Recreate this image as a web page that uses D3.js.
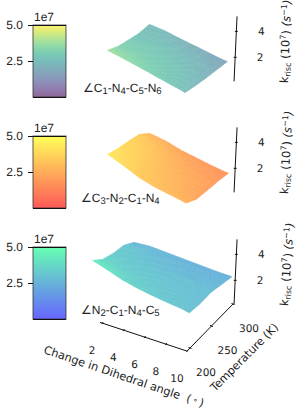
<!DOCTYPE html>
<html>
<head>
<meta charset="utf-8">
<script src="https://cdn.jsdelivr.net/npm/d3@7"></script>
<style>
body { margin: 0; background: #fff; }
text { font-family: "DejaVu Sans"; fill: #222; text-rendering: geometricPrecision; }
.sansLabel { font-family: "Liberation Sans"; }
</style>
</head>
<body>
<div id="my_dataviz"></div>
<script>
const temps = [200, 225, 250, 275, 300];

// rows are temps, columns are the dihedral angles of each panel (units of 1e7)
const anglesC1 = [2.0, 3.5, 5, 6.5, 8, 9, 9.4];
const rateC1 = [
    [3.74, 3.52, 3.27, 3.0, 2.73, 2.57, 2.48],
    [3.2, 3.1, 2.98, 2.8, 2.6, 2.38, 2.17],
    [2.84, 2.8, 2.7, 2.55, 2.35, 2.12, 1.92],
    [2.51, 2.48, 2.38, 2.22, 2.02, 1.84, 1.7],
    [2.36, 2.25, 2.03, 1.84, 1.64, 1.51, 1.48]
];
const anglesC3 = [2.0, 3.5, 5, 6.5, 8, 9, 9.5];
const rateC3 = [
    [4.28, 3.82, 3.3, 2.98, 2.77, 2.63, 2.54],
    [3.9, 3.55, 3.1, 2.75, 2.45, 2.2, 2.0],
    [3.62, 3.3, 2.9, 2.55, 2.25, 2.03, 1.83],
    [3.28, 2.95, 2.55, 2.2, 1.95, 1.8, 1.68],
    [2.51, 2.35, 2.02, 1.82, 1.61, 1.5, 1.46]
];
const anglesN2 = [0.55, 2, 3.5, 5, 6.5, 8, 9, 9.8];
const rateN2 = [
    [4.35, 4.0, 3.6, 3.34, 3.15, 3.0, 2.92, 2.8],
    [3.58, 3.4, 3.2, 3.05, 2.95, 2.85, 2.78, 2.66],
    [3.2, 3.05, 2.95, 2.85, 2.8, 2.75, 2.75, 2.68],
    [2.97, 2.85, 2.7, 2.6, 2.5, 2.45, 2.45, 2.43],
    [2.35, 2.45, 2.4, 2.34, 2.28, 2.23, 2.2, 2.2]
];

const angleTicks = [2, 4, 6, 8, 10];
const tempTicks = [200, 250, 300];
const rateTicks = [2, 4];
const barTicks = [2.5, 5.0];

const panels = [
    {angles: anglesC1, rates: rateC1, cmap: d3.interpolateViridis, alpha: 0.6, dy: -223, barTop: 25, labelX: 83, labelY: 92, names: [["C", "1"], ["N", "4"], ["C", "5"], ["N", "6"]], zRot: -88},
    {angles: anglesC3, rates: rateC3, cmap: t => d3.rgb(255, 255 * t, 0) + "", alpha: 0.65, dy: -112, barTop: 136, labelX: 81, labelY: 202, names: [["C", "3"], ["N", "2"], ["C", "1"], ["N", "4"]], zRot: -87},
    {angles: anglesN2, rates: rateN2, cmap: t => d3.rgb(0, 255 * t, 255 * (1 - t / 2)) + "", alpha: 0.6, dy: 0, barTop: 247, labelX: 81, labelY: 314, names: [["N", "2"], ["C", "1"], ["N", "4"], ["C", "5"]], zRot: -86}
];

const svg = d3.select("#my_dataviz").append("svg").attr("width", 299).attr("height", 410).style("display", "block");

// skewed 3d axes: each data axis adds its own screen offset
const angleX = d3.scaleLinear().domain([2, 10]).range([-84.8, 0]);
const angleY = d3.scaleLinear().domain([2, 10]).range([-28, 0]);
const tempX = d3.scaleLinear().domain([200, 300]).range([190, 233]);
const tempY = d3.scaleLinear().domain([200, 300]).range([348, 304]);
const rateX = d3.scaleLinear().domain([0.15, 5]).range([0, 2.9]);
const rateY = d3.scaleLinear().domain([0.15, 5]).range([0, -63]);

function project(angle, temp, rate) {
    return [angleX(angle) + tempX(temp) + rateX(rate), angleY(angle) + tempY(temp) + rateY(rate)];
}

function flatten(color, alpha) {
    // colour with alpha over the white page, so overlapping strokes leave no seams
    const c = d3.rgb(color);
    const mix = v => Math.round(v * alpha + 255 * (1 - alpha));
    return d3.rgb(mix(c.r), mix(c.g), mix(c.b)) + "";
}

function drawSurface(g, p) {
    const shade = d3.scaleLinear().domain([-0.3, 5]).range([0, 1]);
    const steps = 6;
    const cells = [];
    for (let i = temps.length - 2; i >= 0; i--) {
        for (let j = 0; j < p.angles.length - 1; j++) {
            const at = (u, v) => {
                const temp = d3.interpolate(temps[i], temps[i + 1])(u);
                const angle = d3.interpolate(p.angles[j], p.angles[j + 1])(v);
                const low = d3.interpolate(p.rates[i][j], p.rates[i][j + 1])(v);
                const high = d3.interpolate(p.rates[i + 1][j], p.rates[i + 1][j + 1])(v);
                return {temp, angle, rate: d3.interpolate(low, high)(u)};
            };
            // shading only, the cell corners are the values
            for (let a = steps - 1; a >= 0; a--) {
                for (let b = 0; b < steps; b++) {
                    const corners = [[a, b], [a, b + 1], [a + 1, b + 1], [a + 1, b]].map(c => at(c[0] / steps, c[1] / steps));
                    cells.push({corners, mean: d3.mean(corners, c => c.rate)});
                }
            }
        }
    }
    g.append("g").selectAll("path")
        .data(cells)
        .join("path")
        .attr("d", d => d3.line()(d.corners.map(c => project(c.angle, c.temp, c.rate))) + "Z")
        .attr("fill", d => flatten(p.cmap(shade(d.mean)), p.alpha))
        .attr("stroke", d => flatten(p.cmap(shade(d.mean)), p.alpha))
        .attr("stroke-width", 0.4);
}

function drawColorbar(p) {
    const y = d3.scaleLinear().domain([0, 5]).range([p.barTop + 72, p.barTop]);
    const levels = d3.range(0, 72).map(i => y.invert(p.barTop + i + 0.5));
    svg.append("g").selectAll("rect")
        .data(levels)
        .join("rect")
        .attr("x", 33)
        .attr("width", 33)
        .attr("y", d => y(d) - 0.5)
        .attr("height", 1.2)
        .attr("fill", d => flatten(p.cmap(d / 5), p.alpha));
    svg.append("rect")
        .attr("x", 33).attr("y", p.barTop).attr("width", 33).attr("height", 72)
        .attr("fill", "none").attr("stroke", "#333").attr("stroke-opacity", 0.8);
    [0, 5].forEach(v => {
        svg.append("line").attr("x1", 33).attr("x2", 66).attr("y1", y(v) + 0.5).attr("y2", y(v) + 0.5).attr("stroke", "#111");
    });
    barTicks.forEach(t => {
        svg.append("line").attr("x1", 28).attr("x2", 33).attr("y1", y(t) + 0.5).attr("y2", y(t) + 0.5).attr("stroke", "#111");
        svg.append("text").attr("class", "sansLabel").attr("x", 23).attr("y", y(t) + 4.3)
            .attr("text-anchor", "end").style("font-size", "12px").text(t.toFixed(1));
    });
    svg.append("text").attr("class", "sansLabel").attr("x", 34).attr("y", p.barTop - 4)
        .style("font-size", "12px").text("1e7");
}

function drawAngleName(p) {
    const t = svg.append("text").attr("class", "sansLabel").attr("x", p.labelX).attr("y", p.labelY).style("font-size", "12px");
    t.append("tspan").text("∠");
    p.names.forEach((n, i) => {
        t.append("tspan").attr("dy", i ? -2 : 0).text((i ? "-" : "") + n[0]);
        t.append("tspan").attr("dy", 2).style("font-size", "9.5px").text(n[1]);
    });
}

function drawRateAxis(g, p) {
    const lineGen = d3.line();
    g.append("path")
        .attr("d", lineGen([project(10.1, 300, 0.15), project(10.1, 300, 5.15)]))
        .attr("stroke", "#111").attr("fill", "none");
    rateTicks.forEach(k => {
        const q = project(10.1, 300, k);
        g.append("line").attr("x1", q[0] - 1.5).attr("x2", q[0] + 1.5).attr("y1", q[1]).attr("y2", q[1]).attr("stroke", "#111");
        g.append("text").attr("x", q[0] + 25).attr("y", q[1] + 4)
            .attr("text-anchor", "middle").style("font-size", "10.5px").text(k);
    });
    // z label, rotated a little off vertical as in the 3d view
    const base = project(10.1, 300, 0.15);
    const t = g.append("text")
        .attr("transform", `translate(${base[0] + 54},${base[1] + 2}) rotate(${p.zRot})`)
        .style("font-size", "11.5px");
    t.append("tspan").text("k");
    t.append("tspan").attr("dy", 2).style("font-size", "8px").text("risc");
    t.append("tspan").attr("dy", -2).text(" (10");
    t.append("tspan").attr("dy", -4).style("font-size", "8px").text("7");
    t.append("tspan").attr("dy", 4).text(") ");
    t.append("tspan").style("font-style", "italic").text("(s");
    t.append("tspan").attr("dy", -4).style("font-size", "8px").text("−1");
    t.append("tspan").attr("dy", 4).style("font-style", "italic").text(")");
}

function drawFloorAxes() {
    const g = svg.append("g");
    const cornerT = 193;
    g.append("path")
        .attr("d", d3.line()([project(1.8, cornerT, 0.15), project(10, cornerT, 0.15), project(10, 300, 0.15)]))
        .attr("fill", "none").attr("stroke", "#111");
    angleTicks.forEach(a => {
        const q = project(a, cornerT, 0.15);
        g.append("line").attr("x1", q[0] - 0.5).attr("x2", q[0] + 1).attr("y1", q[1] + 1).attr("y2", q[1] - 1).attr("stroke", "#111");
        g.append("text").attr("x", q[0] - 10).attr("y", q[1] + 31)
            .attr("text-anchor", "middle").style("font-size", "10.5px").text(a);
    });
    tempTicks.forEach(temp => {
        const q = project(10, temp, 0.15);
        g.append("line").attr("x1", q[0] - 1.5).attr("x2", q[0] + 1.5).attr("y1", q[1] - 0.5).attr("y2", q[1] + 0.5).attr("stroke", "#111");
        g.append("text").attr("x", q[0] + 16).attr("y", q[1] + 28)
            .attr("text-anchor", "middle").style("font-size", "10.5px").text(temp);
    });
    const xLabel = g.append("text").attr("transform", "translate(43,353) rotate(18.8)")
        .style("font-size", "11.3px");
    xLabel.append("tspan").text("Change in Dihedral angle");
    xLabel.append("tspan").attr("dx", 7).text("(");
    xLabel.append("tspan").attr("dx", 2).attr("dy", -2).style("font-size", "8px").text("\u2218");
    xLabel.append("tspan").attr("dx", 2).attr("dy", 2).text(")");
    g.append("text").attr("transform", "translate(215,392) rotate(-45)")
        .style("font-size", "11.2px").text("Temperature (K)");
}

panels.forEach(p => {
    drawColorbar(p);
    const g = svg.append("g").attr("transform", `translate(0,${p.dy})`);
    drawSurface(g, p);
    drawRateAxis(g, p);
    drawAngleName(p);
});
drawFloorAxes();
</script>
</body>
</html>
